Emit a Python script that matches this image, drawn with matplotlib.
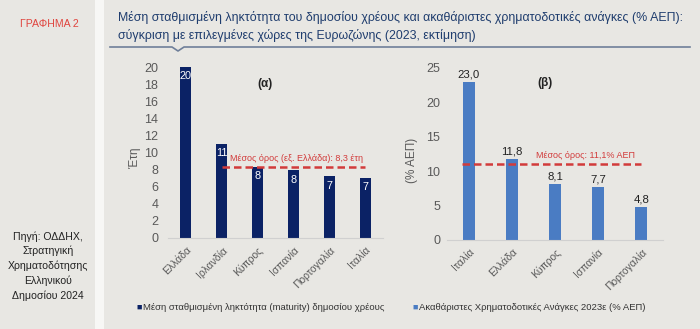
import matplotlib
matplotlib.use("Agg")
import matplotlib.pyplot as plt
from matplotlib.patches import Rectangle
from matplotlib.lines import Line2D

plt.rcParams['font.family'] = ['Liberation Sans', 'DejaVu Sans']

# Data
cats_a = ["Ελλάδα", "Ιρλανδία", "Κύπρος", "Ισπανία", "Πορτογαλία", "Ιταλία"]
vals_a = [20.0, 11.0, 8.3, 7.9, 7.2, 7.0]
labels_a = ["20", "11", "8", "8", "7", "7"]
mean_a = 8.3
mean_a_label = "Μέσος όρος (εξ. Ελλάδα): 8,3 έτη"

cats_b = ["Ιταλία", "Ελλάδα", "Κύπρος", "Ισπανία", "Πορτογαλία"]
vals_b = [23.0, 11.8, 8.1, 7.7, 4.8]
labels_b = ["23,0", "11,8", "8,1", "7,7", "4,8"]
mean_b = 11.1
mean_b_label = "Μέσος όρος: 11,1% ΑΕΠ"

legend_a = "Μέση σταθμισμένη ληκτότητα (maturity) δημοσίου χρέους"
legend_b = "Ακαθάριστες Χρηματοδοτικές Ανάγκες 2023ε (% ΑΕΠ)"
title = ("Μέση σταθμισμένη ληκτότητα του δημοσίου χρέους και ακαθάριστες χρηματοδοτικές ανάγκες (% ΑΕΠ):\n"
         "σύγκριση με επιλεγμένες χώρες της Ευρωζώνης (2023, εκτίμηση)")
side_title = "ΓΡΑΦΗΜΑ 2"
source = "Πηγή: ΟΔΔΗΧ,\nΣτρατηγική\nΧρηματοδότησης\nΕλληνικού\nΔημοσίου 2024"

W, H = 700, 329
fig = plt.figure(figsize=(7.0, 3.29), dpi=100)
bg = "#e8e7e3"
fig.patch.set_facecolor(bg)

def px(x0, y0, w, h):
    return [x0 / W, 1 - (y0 + h) / H, w / W, h / H]

# white strip between panels
fig.patches.append(Rectangle((95 / W, 0), 9 / W, 1, transform=fig.transFigure,
                             facecolor="#f7f7f5", edgecolor="none", zorder=0))

fig.text(49 / W, 1 - 24 / H, side_title, color="#e0453f", fontsize=7.6,
         ha="center", va="center")
fig.text(48 / W, 1 - 266 / H, source, color="#222222", fontsize=7.6,
         ha="center", va="center", linespacing=1.5)

fig.text(118 / W, 1 - 26 / H, title, color="#1f3d6e", fontsize=8.9,
         ha="left", va="center", linespacing=1.5)
# line under title with notch
lx = [110, 172, 178, 184, 690]
ly = [47, 47, 51, 47, 47]
fig.lines.append(Line2D([x / W for x in lx], [1 - y / H for y in ly],
                        transform=fig.transFigure, color="#6f7f99", lw=1.2))

red = "#d23b3b"
tickcol = "#595959"

# Panel (a)
axa = fig.add_axes(px(168, 67, 215, 171))
axa.set_facecolor("none")
xa = list(range(len(cats_a)))
axa.bar(xa, vals_a, width=0.31, color="#0b2265", zorder=2)
for x, v, l in zip(xa, vals_a, labels_a):
    axa.text(x, v - 0.5, l, color="white", fontsize=7.8, ha="center", va="top", zorder=3)
axa.plot([1.0, 5.0], [mean_a, mean_a], color=red, lw=1.8, ls=(0, (3, 1.6)), zorder=4)
axa.text(3.1, mean_a + 0.5, mean_a_label, color=red, fontsize=6.5, ha="center", va="bottom")
axa.text(2.2, 18.0, "(α)", color="#222222", fontsize=8.5, fontweight="bold", ha="center", va="center")
axa.set_xlim(-0.5, 5.5)
axa.set_ylim(0, 20)
axa.set_yticks(range(0, 21, 2))
axa.set_xticks(xa)
axa.set_xticklabels(cats_a, rotation=45, ha="right", rotation_mode="anchor")
axa.set_ylabel("Έτη", color=tickcol, fontsize=8.5)
axa.yaxis.set_label_coords(-0.126, 0.47)
axa.tick_params(axis="y", pad=7)

# Panel (b)
axb = fig.add_axes(px(447, 68, 216, 172))
axb.set_facecolor("none")
xb = list(range(len(cats_b)))
axb.bar(xb, vals_b, width=0.28, color="#4a7cc3", zorder=2)
for x, v, l in zip(xb, vals_b, labels_b):
    axb.text(x, v + 0.4, l, color="#222222", fontsize=8.2, ha="center", va="bottom", zorder=3)
axb.plot([-0.15, 4.0], [mean_b, mean_b], color=red, lw=1.8, ls=(0, (3, 1.6)), zorder=4)
axb.text(2.7, mean_b + 0.6, mean_b_label, color=red, fontsize=6.5, ha="center", va="bottom")
axb.text(1.77, 22.8, "(β)", color="#222222", fontsize=8.5, fontweight="bold", ha="center", va="center")
axb.set_xlim(-0.5, 4.5)
axb.set_ylim(0, 25)
axb.set_yticks(range(0, 26, 5))
axb.set_xticks(xb)
axb.set_xticklabels(cats_b, rotation=45, ha="right", rotation_mode="anchor")
axb.set_ylabel("(% ΑΕΠ)", color=tickcol, fontsize=8.5)
axb.yaxis.set_label_coords(-0.134, 0.465)
axb.tick_params(axis="y", pad=5)

for ax in (axa, axb):
    for s in ("top", "right", "left"):
        ax.spines[s].set_visible(False)
    ax.spines["bottom"].set_color("#d0d0d0")
    ax.tick_params(axis="both", length=0, colors=tickcol)
    ax.tick_params(axis="y", labelsize=9)
    ax.tick_params(axis="x", labelsize=7.5, pad=5)

# Legends
fig.text(136 / W, 1 - 307 / H, "■", color="#0b2265", fontsize=6.5, ha="left", va="center")
fig.text(143 / W, 1 - 307 / H, legend_a, color="#333333", fontsize=6.8, ha="left", va="center")
fig.text(412 / W, 1 - 307 / H, "■", color="#4a7cc3", fontsize=6.5, ha="left", va="center")
fig.text(419 / W, 1 - 307 / H, legend_b, color="#333333", fontsize=6.8, ha="left", va="center")

fig.savefig("out.png", dpi=100, facecolor=fig.get_facecolor())
